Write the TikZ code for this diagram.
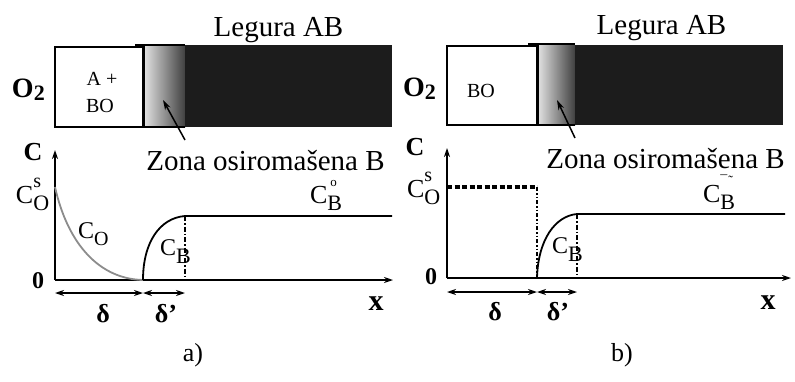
\documentclass[tikz,border=0pt]{standalone}
\usepackage{fontspec}
\setmainfont{Liberation Serif}
\usetikzlibrary{arrows.meta}
\newcommand{\fsz}[1]{\fontsize{#1}{#1}\selectfont}
\newcommand{\Csub}[2]{\fsz{26}C\rlap{\raisebox{16pt}{\fsz{20}#2}}\raisebox{-7pt}{\fsz{22}#1}}
\begin{document}
\begin{tikzpicture}[x=1pt,y=-1pt,
  txt/.style={inner sep=0pt, outer sep=0pt, anchor=base},
  txtw/.style={inner sep=0pt, outer sep=0pt, anchor=base west},
  axis/.style={line width=1.8pt, -{Stealth[length=9pt,width=6pt]}},
  dim/.style={line width=1.5pt, {Stealth[length=9pt,width=6pt]}-{Stealth[length=9pt,width=6pt]}},
  ptr/.style={line width=1.5pt, -{Stealth[length=10pt,width=6pt]}},
  curve/.style={line width=1.8pt},
  dashdot/.style={line width=1.3pt, dash pattern=on 5pt off 2pt on 1.5pt off 2pt},
  dashdotdot/.style={line width=2.2pt, dash pattern=on 4pt off 2pt on 1.5pt off 2pt on 1.5pt off 2pt},
  sqdash/.style={line width=3.5pt, dash pattern=on 5pt off 2.5pt},
  alloy/.style={fill=black!89},
  zone/.style={left color=black!10, right color=black!75},
]
\useasboundingbox (0,0) rectangle (795,381);

% ================= panel a =================
\shade[zone] (143,45) rectangle (185,127);
\fill[alloy] (185,45) rectangle (392,127);
\draw[line width=1.8pt] (143,47) -- (55,47) -- (55,127) -- (185,127);
\draw[line width=1.2pt] (135,45) -- (185,45);
\draw[line width=3pt] (143,46) -- (143,128);

\node[txt, font=\fsz{29}] (legA) at (278.5,36) {Legura AB};
\node[txt, font=\fsz{29}] (zonA) at (265.5,170) {Zona osiromašena B};
\node[txtw, font=\bfseries\fsz{28}] (o2A) at (12,97) {O\raisebox{-3pt}{\fsz{22}2}};
\node[txt, font=\fsz{20}] (abA) at (102,85) {A +};
\node[txt, font=\fsz{20}] (boA) at (100,112) {BO};

\coordinate (ztA) at (185,140);
\coordinate (zhA) at (163,100);
\draw[ptr] (ztA) -- (zhA);

\coordinate (oA) at (55,280);
\coordinate (yA) at (55,150);
\coordinate (xA) at (393,280);
\draw[axis] (oA) -- (yA);
\draw[axis] (oA) -- (xA);

\coordinate (coA) at (55,187);
\coordinate (dA) at (143,280);
\coordinate (kA) at (185,216);
\coordinate (kbA) at (185,280);
\coordinate (eA) at (392,216);
\draw[curve, black!45] (coA) .. controls (68,245) and (100,279) .. (dA);
\draw[curve] (dA) .. controls (143,242) and (160,218) .. (kA) -- (eA);
\draw[dashdot] (kA) -- (kbA);

\coordinate (d1A) at (55,293);
\coordinate (d2A) at (143,293);
\coordinate (d3A) at (185,293);
\draw[dim] (d1A) -- (d2A);
\draw[dim] (d2A) -- (d3A);

\node[txt, font=\bfseries\fsz{24}] (zeroA) at (38,288) {0};
\node[txt, font=\bfseries\fsz{26}] (cA) at (33,160) {C};
\node[txtw] (cosA) at (16,203) {\Csub{O}{s}};
\node[txtw] (coLA) at (78,238) {\fsz{24}C\raisebox{-7pt}{\fsz{20}O}};
\node[txtw] (cbA) at (160,255) {\fsz{24}C\raisebox{-8pt}{\fsz{22}B}};
\node[txtw] (cboA) at (310,203) {\fsz{26}C\rlap{\raisebox{17pt}{\hspace{3pt}\fsz{13}o}}\raisebox{-7pt}{\fsz{22}B}};
\node[txt, font=\bfseries\fsz{26}] (delA) at (103,322) {δ};
\node[txt, font=\bfseries\fsz{26}] (delpA) at (166,322) {δ'};
\node[txt, font=\bfseries\fsz{30}] (xlA) at (376,310) {x};
\node[txt, font=\fsz{26}] (capA) at (193,361) {a)};

% ================= panel b =================
\shade[zone] (537,45) rectangle (575,125);
\fill[alloy] (575,45) rectangle (783,125);
\draw[line width=1.8pt] (537,46) -- (447,46) -- (447,125) -- (575,125);
\draw[line width=1.2pt] (528,44) -- (575,44);
\draw[line width=3pt] (537,45) -- (537,126);

\node[txt, font=\fsz{29}] (legB) at (661.5,34) {Legura AB};
\node[txt, font=\fsz{29}] (zonB) at (665.5,168) {Zona osiromašena B};
\node[txtw, font=\bfseries\fsz{28}] (o2B) at (403,96) {O\raisebox{-3pt}{\fsz{22}2}};
\node[txt, font=\fsz{20}] (boB) at (481,97) {BO};

\coordinate (ztB) at (575,138);
\coordinate (zhB) at (557,100);
\draw[ptr] (ztB) -- (zhB);

\coordinate (oB) at (447,278);
\coordinate (yB) at (447,148);
\coordinate (xB) at (791,278);
\draw[axis] (oB) -- (yB);
\draw[axis] (oB) -- (xB);

\coordinate (csB) at (447,187);
\coordinate (ccB) at (537,187);
\coordinate (dB) at (537,278);
\coordinate (kB) at (577,214);
\coordinate (kbB) at (577,278);
\coordinate (eB) at (785,214);
\draw[sqdash] (csB) -- (ccB);
\draw[dashdotdot] (ccB) -- (dB);
\draw[curve] (dB) .. controls (538,240) and (555,216) .. (kB) -- (eB);
\draw[dashdot] (kB) -- (kbB);

\coordinate (d1B) at (447,292);
\coordinate (d2B) at (537,292);
\coordinate (d3B) at (577,292);
\draw[dim] (d1B) -- (d2B);
\draw[dim] (d2B) -- (d3B);

\node[txt, font=\bfseries\fsz{24}] (zeroB) at (431,284) {0};
\node[txt, font=\bfseries\fsz{26}] (cB) at (415,155) {C};
\node[txtw] (cosB) at (407,197) {\Csub{O}{s}};
\node[txtw] (cbB) at (552,253) {\fsz{24}C\raisebox{-8pt}{\fsz{22}B}};
\node[txtw] (cboB) at (703,202) {\fsz{26}C\rlap{\raisebox{17pt}{\fsz{14}¯\hspace{1pt}˜}}\raisebox{-7pt}{\fsz{22}B}};
\node[txt, font=\bfseries\fsz{26}] (delB) at (495,320) {δ};
\node[txt, font=\bfseries\fsz{26}] (delpB) at (558,320) {δ'};
\node[txt, font=\bfseries\fsz{30}] (xlB) at (768,309) {x};
\node[txt, font=\fsz{26}] (capB) at (622,361) {b)};
\end{tikzpicture}
\end{document}
